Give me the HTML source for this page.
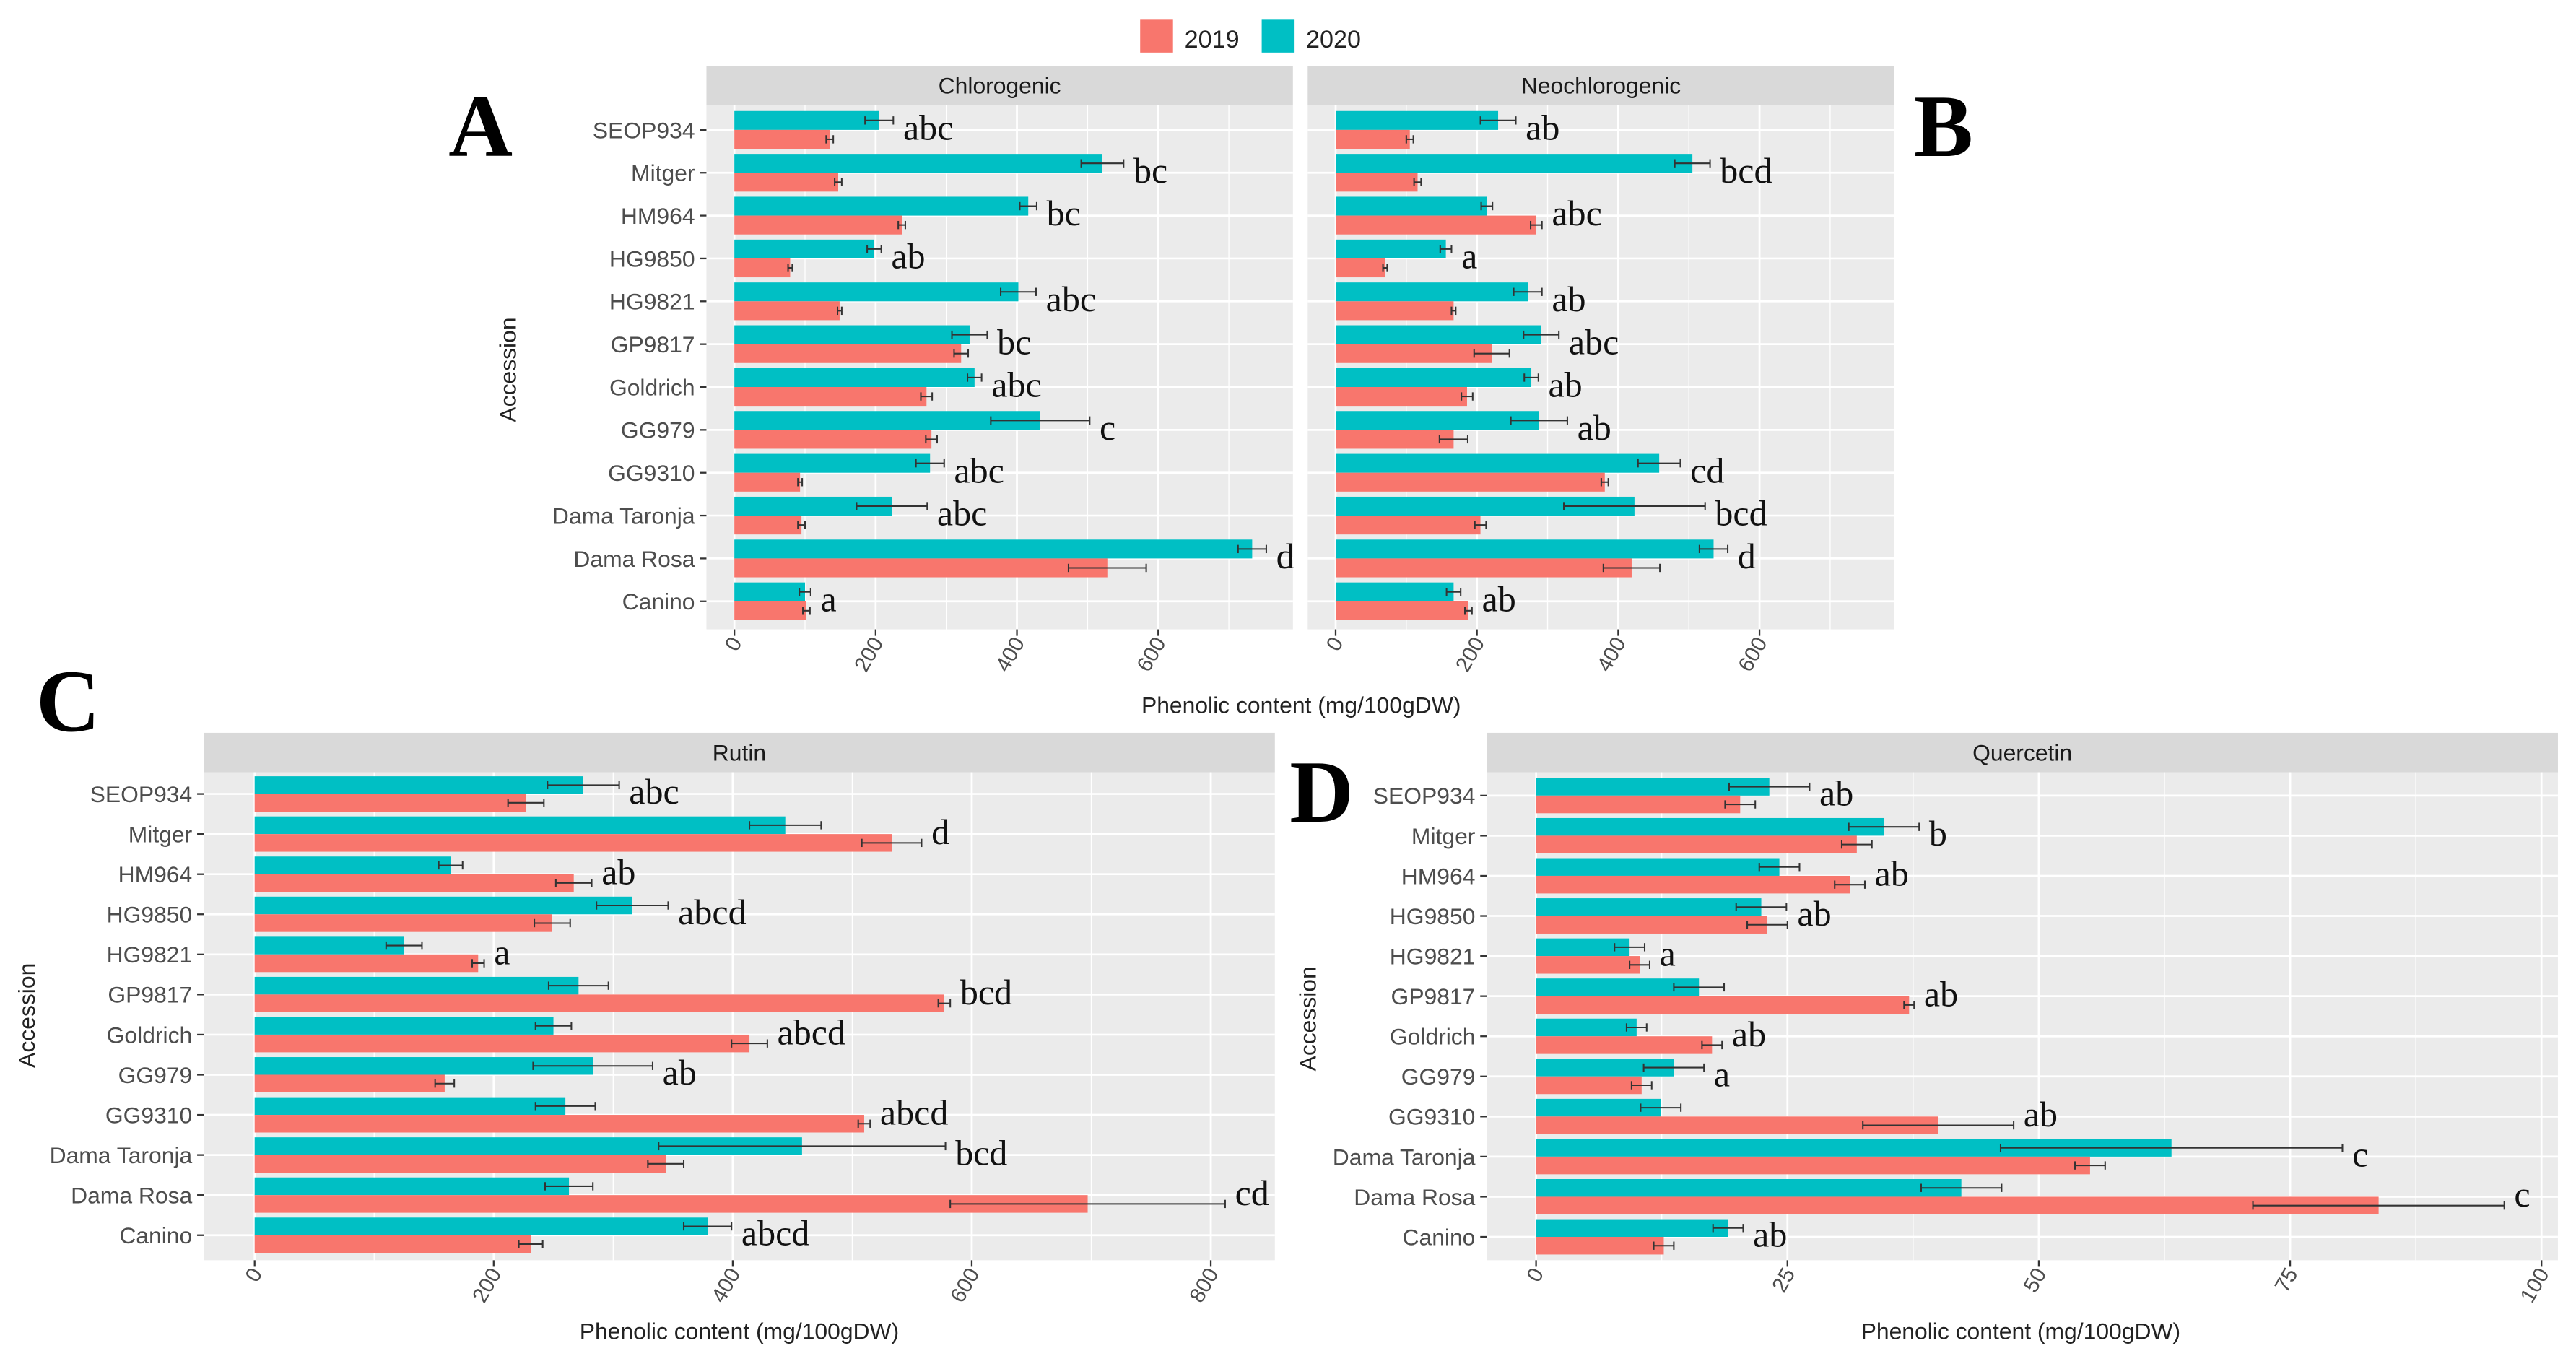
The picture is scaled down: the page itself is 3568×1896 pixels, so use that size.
<!DOCTYPE html>
<html><head><meta charset="utf-8"><style>
html,body{margin:0;padding:0;background:#fff;}
svg{display:block;}
</style></head><body>
<svg id="chart" width="3568" height="1896" viewBox="0 0 1568 833.2" xmlns="http://www.w3.org/2000/svg" font-family="Liberation Sans, sans-serif">
<g>
  <rect x="694" y="12" width="20" height="20" fill="#F8766D"/>
  <text x="721" y="29" font-size="15" fill="#222">2019</text>
  <rect x="768" y="12" width="20" height="20" fill="#00BFC4"/>
  <text x="795" y="29" font-size="15" fill="#222">2020</text>
</g>
<g font-family="Liberation Serif, serif" font-weight="bold" font-size="54" fill="#000">
  <text x="273" y="95">A</text>
  <text x="1165" y="95">B</text>
  <text x="22" y="445">C</text>
  <text x="785" y="500">D</text>
</g>
<g font-size="14" fill="#222">
  <text transform="translate(314,225) rotate(-90)" text-anchor="middle">Accession</text>
  <text transform="translate(21,618) rotate(-90)" text-anchor="middle">Accession</text>
  <text transform="translate(801,620) rotate(-90)" text-anchor="middle">Accession</text>
  <text x="792" y="434" text-anchor="middle">Phenolic content (mg/100gDW)</text>
  <text x="450" y="815" text-anchor="middle">Phenolic content (mg/100gDW)</text>
  <text x="1230" y="815" text-anchor="middle">Phenolic content (mg/100gDW)</text>
</g>
</svg>
<script>
const categories = ["SEOP934","Mitger","HM964","HG9850","HG9821","GP9817","Goldrich","GG979","GG9310","Dama Taronja","Dama Rosa","Canino"];
// Chlorogenic
const chloro2020 = [205,521,416,198,402,333,340,433,277,223,733,100];
const chloro2019 = [135,147,237,79,149,321,272,279,93,95,528,102];
const chloroErr2020 = [20,30,12,10,25,25,10,70,20,50,20,8];
const chloroErr2019 = [5,5,5,3,3,10,8,8,3,5,55,5];
const chloroLetters = ["abc","bc","bc","ab","abc","bc","abc","c","abc","abc","d","a"];
// Neochlorogenic
const neo2020 = [230,505,214,156,272,291,277,288,458,423,535,167];
const neo2019 = [105,116,284,70,167,221,186,167,381,205,419,188];
const neoErr2020 = [25,25,8,8,20,25,10,40,30,100,20,10];
const neoErr2019 = [5,5,8,3,3,25,8,20,5,8,40,5];
const neoLetters = ["ab","bcd","abc","a","ab","abc","ab","ab","cd","bcd","d","ab"];
// Rutin
const rutin2020 = [275,444,164,316,125,271,250,283,260,458,263,379];
const rutin2019 = [227,533,267,249,187,577,414,159,510,344,697,231];
const rutinErr2020 = [30,30,10,30,15,25,15,50,25,120,20,20];
const rutinErr2019 = [15,25,15,15,5,5,15,8,5,15,115,10];
const rutinLetters = ["abc","d","ab","abcd","a","bcd","abcd","ab","abcd","bcd","cd","abcd"];
// Quercetin
const quer2020 = [23.2,34.6,24.2,22.4,9.3,16.2,10.0,13.7,12.4,63.2,42.3,19.1];
const quer2019 = [20.3,31.9,31.2,23.0,10.3,37.1,17.5,10.5,40.0,55.1,83.8,12.7];
const querErr2020 = [4,3.5,2,2.5,1.5,2.5,1,3,2,17,4,1.5];
const querErr2019 = [1.5,1.5,1.5,2,1,0.5,1,1,7.5,1.5,12.5,1];
const quercetinLetters = ["ab","b","ab","ab","a","ab","ab","a","ab","c","c","ab"];
const abTicks=[0,200,400,600];
const cTicks=[0,200,400,600,800];
const dTicks=[0,25,50,75,100];
</script>
<script>
const NS="http://www.w3.org/2000/svg";
const svg=document.getElementById('chart');
function mk(tag,attrs,parent){const e=document.createElementNS(NS,tag);for(const k in attrs)e.setAttribute(k,attrs[k]);(parent||svg).appendChild(e);return e;}

function panel(o){
  const g=mk('g',{});
  
  
  mk('rect',{x:o.x0,y:o.py0,width:o.x1-o.x0,height:o.py1-o.py0,fill:'#EBEBEB'},g);
  const strip=mk('rect',{x:o.x0,y:o.py0-24,width:o.x1-o.x0,height:24,fill:'#D9D9D9'},g);
  
  
  const st=mk('text',{x:(o.x0+o.x1)/2,y:o.py0-7,'text-anchor':'middle','font-size':14,fill:'#1A1A1A'},g);
  st.textContent=o.title;
  
  
  const xs=v=>o.zx+v*o.k;
  const n=categories.length;
  const step=(o.y1-o.y0)/n;
  const yc=i=>o.y0+step*(i+0.5);
  for(let t=0;t<o.ticks.length;t++){
    const v=o.ticks[t];
    if(t<o.ticks.length-1){const m=xs((v+o.ticks[t+1])/2);if(m<o.x1)mk('line',{x1:m,x2:m,y1:o.py0,y2:o.py1,stroke:'#fff','stroke-width':0.6},g);}
    if(t===o.ticks.length-1){const m=xs(v+(o.ticks[1]-o.ticks[0])/2);if(m<o.x1)mk('line',{x1:m,x2:m,y1:o.py0,y2:o.py1,stroke:'#fff','stroke-width':0.6},g);}
    const X=xs(v);
    mk('line',{x1:X,x2:X,y1:o.py0,y2:o.py1,stroke:'#fff','stroke-width':1.2},g);
    mk('line',{x1:X,x2:X,y1:o.py1,y2:o.py1+4,stroke:'#333','stroke-width':1},g);
    const tl=mk('text',{transform:`translate(${X+5},${o.py1+8}) rotate(-60)`,'text-anchor':'end','font-size':13,fill:'#4D4D4D'},g);
    tl.textContent=o.tickLabels[t];
    
    
  }
  for(let i=0;i<n;i++){
    mk('line',{x1:o.x0,x2:o.x1,y1:yc(i),y2:yc(i),stroke:'#fff','stroke-width':1.2},g);
    if(o.showY){
      mk('line',{x1:o.x0-4,x2:o.x0,y1:yc(i),y2:yc(i),stroke:'#333','stroke-width':1},g);
      const yl=mk('text',{x:o.x0-7,y:yc(i)+5,'text-anchor':'end','font-size':14,fill:'#4D4D4D'},g);
      yl.textContent=categories[i];
      
      
    }
  }
  const bh=step*0.44;
  for(let i=0;i<n;i++){
    const c=yc(i);
    const b1=mk('rect',{x:xs(0),y:c-bh,width:xs(o.v2020[i])-xs(0),height:bh,fill:'#00BFC4'},g);
    
    
    const b2=mk('rect',{x:xs(0),y:c,width:xs(o.v2019[i])-xs(0),height:bh,fill:'#F8766D'},g);
    
    
    [[o.v2020[i],o.e2020[i],c-bh/2],[o.v2019[i],o.e2019[i],c+bh/2]].forEach(a=>{
      const l=xs(a[0]-a[1]),r=xs(a[0]+a[1]),y=a[2];
      mk('line',{x1:l,x2:r,y1:y,y2:y,stroke:'#333','stroke-width':0.9},g);
      mk('line',{x1:l,x2:l,y1:y-2.5,y2:y+2.5,stroke:'#333','stroke-width':0.9},g);
      mk('line',{x1:r,x2:r,y1:y-2.5,y2:y+2.5,stroke:'#333','stroke-width':0.9},g);
    });
    const mx=Math.max(o.v2020[i]+o.e2020[i],o.v2019[i]+o.e2019[i]);
    const lt=mk('text',{x:Math.min(xs(mx)+6,o.x1-2),y:c+6,'font-size':22,'font-family':'Liberation Serif, serif',fill:'#111'},g);
    lt.textContent=o.letters[i];
    
    
  }
}
panel({name:'panel-chlorogenic',title:'Chlorogenic',x0:430,x1:787,py0:64,py1:383,y0:66,y1:379,zx:447,k:0.43,ticks:abTicks,tickLabels:abTicks.map(String),v2020:chloro2020,v2019:chloro2019,e2020:chloroErr2020,e2019:chloroErr2019,letters:chloroLetters,showY:true});
panel({name:'panel-neochlorogenic',title:'Neochlorogenic',x0:796,x1:1153,py0:64,py1:383,y0:66,y1:379,zx:813,k:0.43,ticks:abTicks,tickLabels:abTicks.map(String),v2020:neo2020,v2019:neo2019,e2020:neoErr2020,e2019:neoErr2019,letters:neoLetters,showY:false});
panel({name:'panel-rutin',title:'Rutin',x0:124,x1:776,py0:470,py1:767,y0:471,y1:764,zx:155,k:0.7275,ticks:cTicks,tickLabels:cTicks.map(String),v2020:rutin2020,v2019:rutin2019,e2020:rutinErr2020,e2019:rutinErr2019,letters:rutinLetters,showY:true});
panel({name:'panel-quercetin',title:'Quercetin',x0:905,x1:1557,py0:470,py1:767,y0:472,y1:765,zx:935,k:6.12,ticks:dTicks,tickLabels:dTicks.map(String),v2020:quer2020,v2019:quer2019,e2020:querErr2020,e2019:querErr2019,letters:quercetinLetters,showY:true});
</script>
</body></html>
